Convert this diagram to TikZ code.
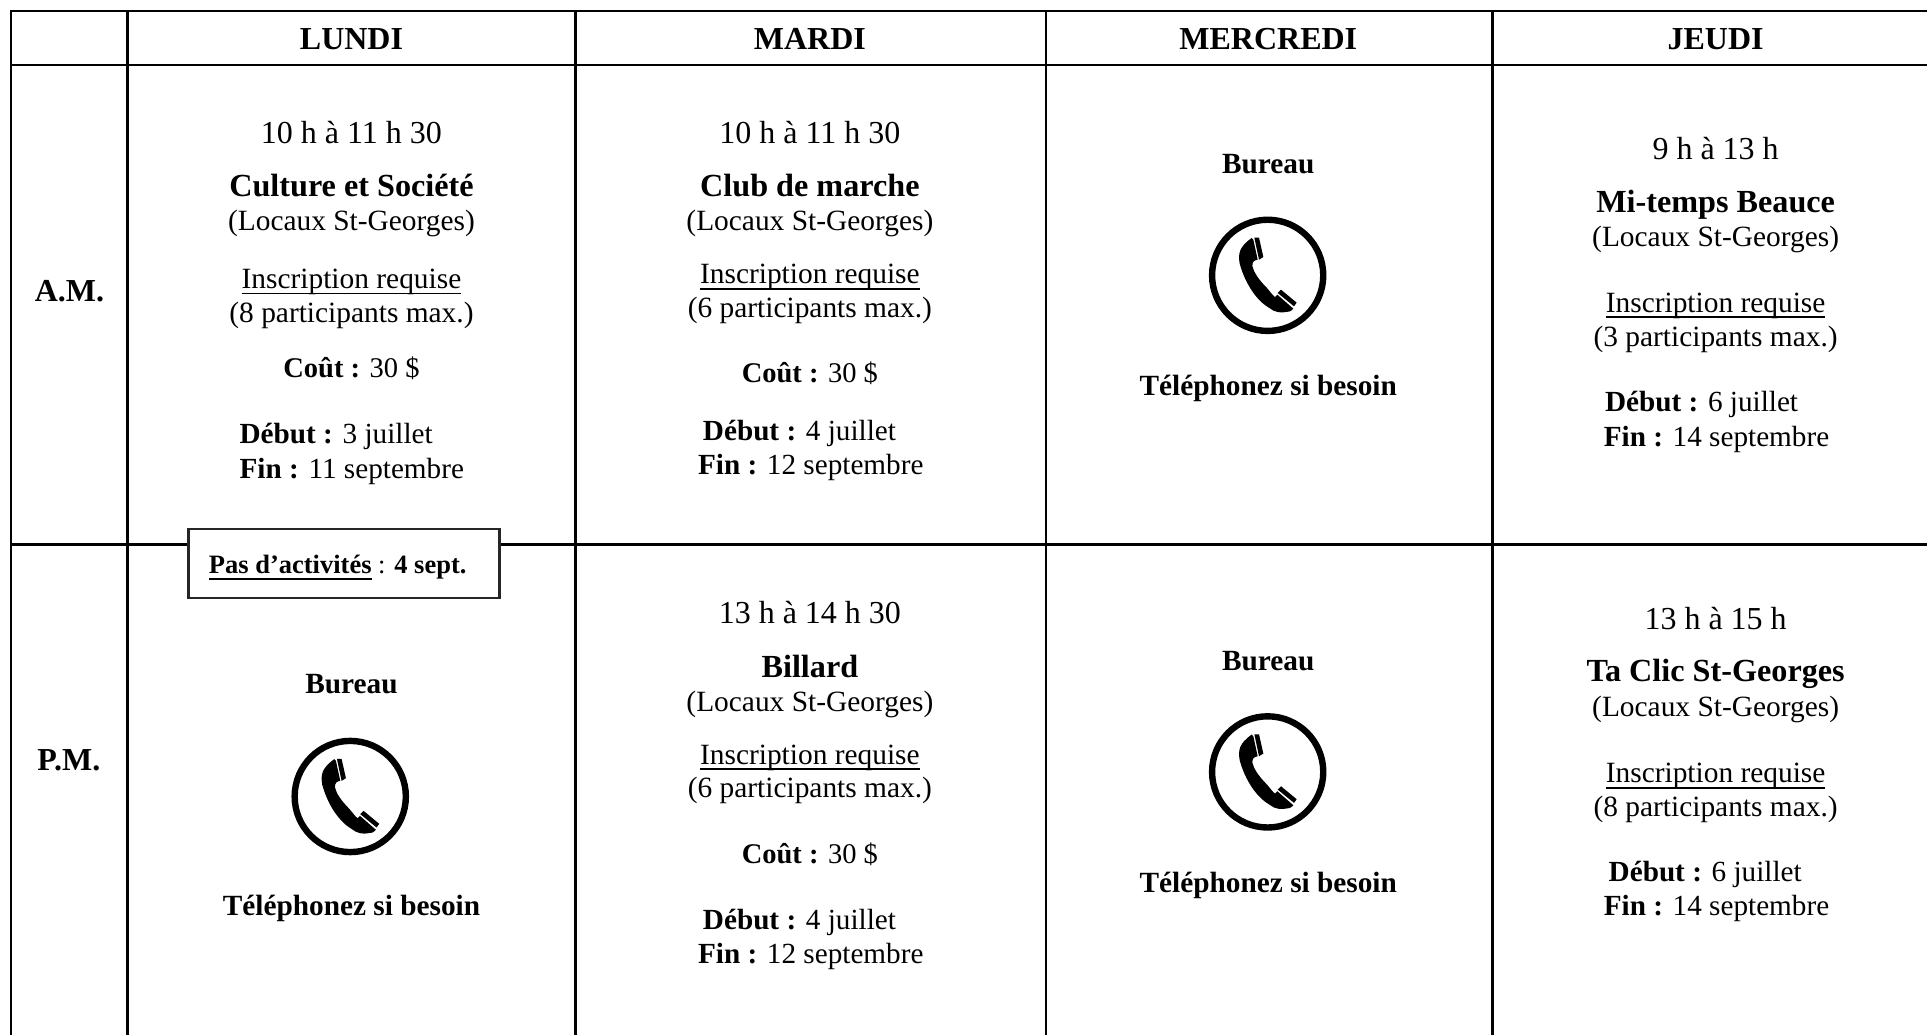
\documentclass[tikz,border=0pt]{standalone}
\usepackage{fontspec}
\setmainfont{Liberation Serif}
\newcommand\ulthin[1]{\setbox0\hbox{#1}\rlap{\rule[-5.6pt]{\wd0}{1.8pt}}\box0}
\newcommand\ulbold[1]{\setbox0\hbox{#1}\rlap{\rule[-7pt]{\wd0}{2.7pt}}\box0}
\tikzset{
  gridline/.style={line width=2.7pt,line cap=rect},
  txt/.style={inner sep=0pt,outer sep=0pt,anchor=base,text=black},
  ltxt/.style={txt,anchor=base west},
  head/.style={txt,font=\fontsize{32}{36}\selectfont\bfseries},
  timeslot/.style={txt,font=\fontsize{32}{36}\selectfont},
  title/.style={txt,font=\fontsize{32.2}{36}\selectfont\bfseries},
  body/.style={txt,font=\fontsize{29.4}{34}\selectfont},
  cost/.style={txt,font=\fontsize{28.5}{34}\selectfont},
  dates/.style={ltxt,font=\fontsize{29.2}{34}\selectfont},
  office/.style={txt,font=\fontsize{29.3}{34}\selectfont\bfseries},
  notice/.style={draw=black!85,line width=2.5pt,fill=white,minimum width=311pt,minimum height=69pt,inner sep=0pt},
  phone/.pic={
    \begin{scope}[x=.3333pt,y=-.3333pt]
      \draw[line width=6.4pt] (0,0) circle (55.6pt);
      \fill (-48,-112) -- (-43,-107) -- (-30,-47) .. controls (-40,-45) and (-46,-42) .. (-46,-28)
        .. controls (-42,-10) and (-28,12) .. (-2,38)
        .. controls (8,50) and (15,60) .. (22,65) -- (29,58) -- (77,100) .. controls (70,108) and (62,111) .. (55,110)
        .. controls (40,113) and (22,112) .. (5,98)
        .. controls (-30,78) and (-66,30) .. (-84,-35)
        .. controls (-89,-65) and (-86,-85) .. (-48,-112) -- cycle;
      \fill (-40,-113) -- (-26,-113) -- (-13,-55) -- (-26,-47) -- cycle;
      \fill (40,43) -- (87,82) -- (79,93) -- (30,53) -- cycle;
    \end{scope}
  }
}
\begin{document}
\begin{tikzpicture}[x=1.2290pt,y=-1.2292pt]
\useasboundingbox (0,0) rectangle (1568,842);
% grid
\draw[gridline] (9,842) -- (9,9) -- (1568,9);
\draw[gridline] (9,53) -- (1568,53);
\draw[gridline] (9,443) -- (1568,443);
\draw[gridline] (104,9) -- (104,842);
\draw[gridline] (468,9) -- (468,842);
\draw[gridline] (851,9) -- (851,842);
\draw[gridline] (1214.5,9) -- (1214.5,842);
% header
\node[head] (hL) at (286,40) {LUNDI};
\node[head] (hM) at (659,40) {MARDI};
\node[head] (hW) at (1032,40) {MERCREDI};
\node[head] (hJ) at (1396,40) {JEUDI};
\node[head] (am) at (56.5,245) {A.M.};
\node[head] (pm) at (56,627) {P.M.};
% Lundi AM
\node[timeslot] (a1) at (286,116.5) {10 h à 11 h 30};
\node[title] (a2) at (286,160) {Culture et Société};
\node[body] (a3) at (286,187.5) {(Locaux St-Georges)};
\node[body] (a4) at (286,235) {\ulthin{Inscription requise}};
\node[body] (a5) at (286,262.5) {(8 participants max.)};
\node[cost] (a6) at (286,307) {\textbf{Coût :} 30 \$};
\node[dates] (a7) at (195,361) {\textbf{Début :} 3 juillet};
\node[dates] (a8) at (195,389) {\textbf{Fin :} 11 septembre};
% Mardi AM
\node[timeslot] (b1) at (659,116.5) {10 h à 11 h 30};
\node[title] (b2) at (659,160) {Club de marche};
\node[body] (b3) at (659,187.5) {(Locaux St-Georges)};
\node[body] (b4) at (659,231) {\ulthin{Inscription requise}};
\node[body] (b5) at (659,258) {(6 participants max.)};
\node[cost] (b6) at (659,311) {\textbf{Coût :} 30 \$};
\node[dates] (b7) at (572,358) {\textbf{Début :} 4 juillet};
\node[dates] (b8) at (568,386) {\textbf{Fin :} 12 septembre};
% Mercredi AM
\node[office] (c1) at (1032,141) {Bureau};
\pic at (1031.5,224) {phone};
\node[office] (c2) at (1032,322) {Téléphonez si besoin};
% Jeudi AM
\node[timeslot] (d1) at (1396,129.5) {9 h à 13 h};
\node[title] (d2) at (1396,173) {Mi-temps Beauce};
\node[body] (d3) at (1396,200.5) {(Locaux St-Georges)};
\node[body] (d4) at (1396,254) {\ulthin{Inscription requise}};
\node[body] (d5) at (1396,282) {(3 participants max.)};
\node[dates] (d6) at (1306,335) {\textbf{Début :} 6 juillet};
\node[dates] (d7) at (1305,363) {\textbf{Fin :} 14 septembre};
% Lundi PM
\node[notice] (n) at (280,458.5) {};
\node[ltxt,font=\fontsize{26.5}{30}\selectfont] (n1) at (170,466.5) {\textbf{\ulbold{Pas d’activités}} : \textbf{4 sept.}};
\node[office] (e1) at (286,564) {Bureau};
\pic at (285,648) {phone};
\node[office] (e2) at (286,745) {Téléphonez si besoin};
% Mardi PM
\node[timeslot] (f1) at (659,507.5) {13 h à 14 h 30};
\node[title] (f2) at (659,551) {Billard};
\node[body] (f3) at (659,578.5) {(Locaux St-Georges)};
\node[body] (f4) at (659,622) {\ulthin{Inscription requise}};
\node[body] (f5) at (659,649) {(6 participants max.)};
\node[cost] (f6) at (659,702.5) {\textbf{Coût :} 30 \$};
\node[dates] (f7) at (572,756) {\textbf{Début :} 4 juillet};
\node[dates] (f8) at (568,784) {\textbf{Fin :} 12 septembre};
% Mercredi PM
\node[office] (g1) at (1032,545.5) {Bureau};
\pic at (1031.5,628) {phone};
\node[office] (g2) at (1032,726) {Téléphonez si besoin};
% Jeudi PM
\node[timeslot] (h1) at (1396,512) {13 h à 15 h};
\node[title] (h2) at (1396,554.5) {Ta Clic St-Georges};
\node[body] (h3) at (1396,583) {(Locaux St-Georges)};
\node[body] (h4) at (1396,637) {\ulthin{Inscription requise}};
\node[body] (h5) at (1396,664) {(8 participants max.)};
\node[dates] (h6) at (1309,717) {\textbf{Début :} 6 juillet};
\node[dates] (h7) at (1305,745) {\textbf{Fin :} 14 septembre};
\end{tikzpicture}
\end{document}
